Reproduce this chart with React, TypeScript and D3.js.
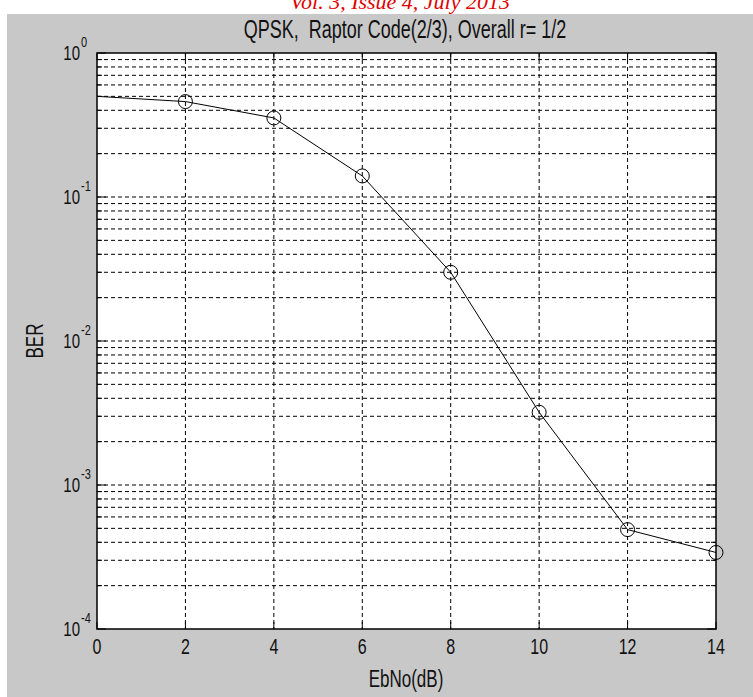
import React from "react";
import * as d3 from "d3";

// EbNo (dB) and BER values
const ebno = [0, 2, 4, 6, 8, 10, 12, 14];
const ber = [0.5, 0.46, 0.354, 0.14, 0.03, 0.0032, 0.00049, 0.00034];
const xTicks = [0, 2, 4, 6, 8, 10, 12, 14];
const yExponents = [0, -1, -2, -3, -4];
const titleText = "QPSK,  Raptor Code(2/3), Overall r= 1/2";
const headerText = "Vol. 3, Issue 4, July 2013";

const W = 753;
const H = 697;
const left = 97;
const right = 716;
const top = 53;
const bottom = 629;
const font = "'Liberation Sans', Arial, sans-serif";
const sy = 1.4; // text in the screenshot is tall and narrow

function TallText(props: {
  x: number;
  y: number;
  size: number;
  anchor?: string;
  rotate?: number;
  children: React.ReactNode;
}) {
  const { x, y, size, anchor = "middle", rotate = 0, children } = props;
  return (
    <g transform={`translate(${x},${y}) rotate(${rotate}) scale(1,${sy})`}>
      <text
        fontFamily={font}
        fontSize={size}
        textAnchor={anchor}
        dominantBaseline="central"
        fill="#111"
      >
        {children}
      </text>
    </g>
  );
}

export default function App() {
  const xScale = d3.scaleLinear().domain([0, 14]).range([left, right]);
  const yScale = d3.scaleLog().domain([1e-4, 1]).range([bottom, top]);

  const minorVals: number[] = [];
  for (let e = -4; e < 0; e++) {
    for (let m = 2; m <= 9; m++) minorVals.push(m * Math.pow(10, e));
  }
  const majorVals = yExponents.map((e) => Math.pow(10, e));

  const line = d3
    .line<number>()
    .x((d, i) => xScale(ebno[i]))
    .y((d) => yScale(d));

  const dash = "4,3";

  return (
    <svg
      width={W}
      height={H}
      style={{ position: "absolute", left: 0, top: 0, background: "#fff" }}
    >
      <text
        x={400}
        y={9}
        textAnchor="middle"
        fontFamily="'Liberation Serif', 'Times New Roman', serif"
        fontStyle="italic"
        fontSize={22}
        fill="#e00000"
      >
        {headerText}
      </text>
      <rect x={7} y={14} width={W - 7} height={H - 14} fill="#c8c8c8" />
      <rect x={left} y={top} width={right - left} height={bottom - top} fill="#fff" />

      {/* grid */}
      <g stroke="#000" strokeWidth={1} strokeDasharray={dash} fill="none">
        {xTicks.slice(1, -1).map((t) => (
          <line key={"gx" + t} x1={xScale(t)} x2={xScale(t)} y1={top} y2={bottom} />
        ))}
        {[...minorVals, ...majorVals.slice(1, -1)].map((v, i) => (
          <line key={"gy" + i} x1={left} x2={right} y1={yScale(v)} y2={yScale(v)} />
        ))}
      </g>

      {/* ticks */}
      <g stroke="#000" strokeWidth={1}>
        {xTicks.map((t) => (
          <g key={"tx" + t}>
            <line x1={xScale(t)} x2={xScale(t)} y1={bottom} y2={bottom - 7} />
            <line x1={xScale(t)} x2={xScale(t)} y1={top} y2={top + 7} />
          </g>
        ))}
        {majorVals.map((v, i) => (
          <g key={"ty" + i}>
            <line x1={left} x2={left + 9} y1={yScale(v)} y2={yScale(v)} />
            <line x1={right} x2={right - 9} y1={yScale(v)} y2={yScale(v)} />
          </g>
        ))}
        {minorVals.map((v, i) => (
          <g key={"tm" + i}>
            <line x1={left} x2={left + 5} y1={yScale(v)} y2={yScale(v)} />
            <line x1={right} x2={right - 5} y1={yScale(v)} y2={yScale(v)} />
          </g>
        ))}
      </g>

      {/* data */}
      <path d={line(ber) || ""} fill="none" stroke="#000" strokeWidth={1} />
      {ber.map((v, i) =>
        ebno[i] === 0 ? null : (
          <circle
            key={"m" + i}
            cx={xScale(ebno[i])}
            cy={yScale(v)}
            r={7}
            fill="none"
            stroke="#000"
            strokeWidth={1}
          />
        )
      )}

      <rect
        x={left}
        y={top}
        width={right - left}
        height={bottom - top}
        fill="none"
        stroke="#000"
        strokeWidth={1.5}
      />

      {/* x tick labels */}
      {xTicks.map((t) => (
        <TallText key={"lx" + t} x={xScale(t)} y={646} size={16}>
          {t}
        </TallText>
      ))}

      {/* y tick labels */}
      {yExponents.map((e) => (
        <g key={"ly" + e}>
          <TallText x={80} y={yScale(Math.pow(10, e))} size={15} anchor="end">
            10
          </TallText>
          <TallText x={81} y={yScale(Math.pow(10, e)) - 11} size={11} anchor="start">
            {e}
          </TallText>
        </g>
      ))}

      <TallText x={406} y={678} size={17}>
        EbNo(dB)
      </TallText>
      <TallText x={34} y={341} size={17} rotate={-90}>
        BER
      </TallText>
      <g transform={`translate(405,29) scale(1,1.45)`}>
        <text
          fontFamily={font}
          fontSize={18}
          textAnchor="middle"
          dominantBaseline="central"
          fill="#111"
          style={{ whiteSpace: "pre" }}
        >
          {titleText}
        </text>
      </g>
    </svg>
  );
}
